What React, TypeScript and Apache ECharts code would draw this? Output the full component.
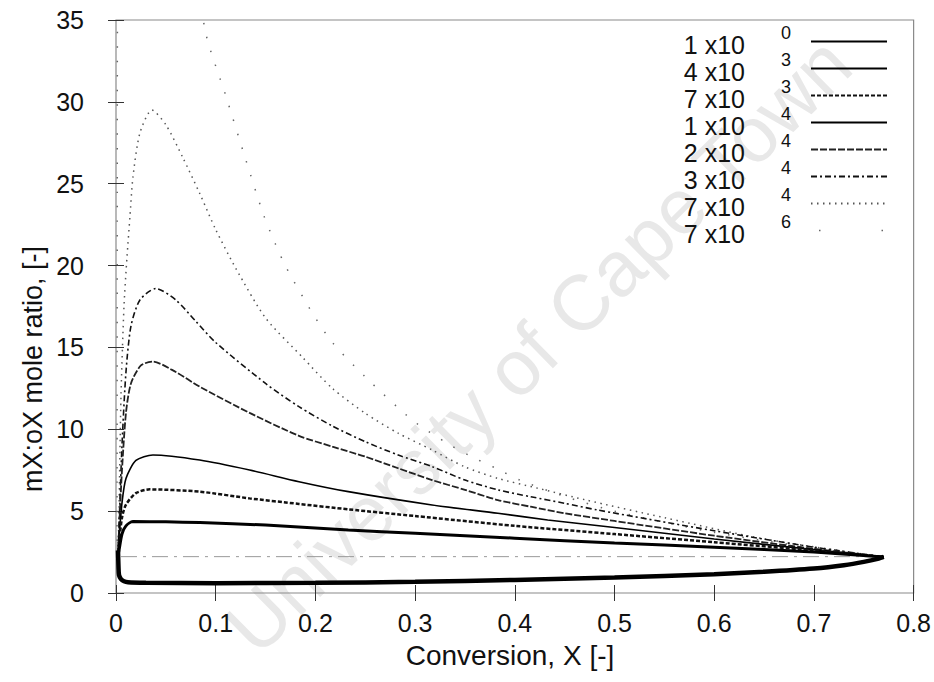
import React, { useEffect, useRef } from "react";
import * as echarts from "echarts";

// ---------- data (X conversion, mX:oX mole ratio) ----------
const xTicks = [0, 0.1, 0.2, 0.3, 0.4, 0.5, 0.6, 0.7, 0.8];
const yTicks = [0, 5, 10, 15, 20, 25, 30, 35];

const legendBases = ["1 x10", "4 x10", "7 x10", "1 x10", "2 x10", "3 x10", "7 x10", "7 x10"];
const legendExps = ["0", "3", "3", "4", "4", "4", "4", "6"];
const seriesNames = ["k1e0", "k4e3", "k7e3", "k1e4", "k2e4", "k3e4", "k7e4", "k7e6"];

const curve1e0: [number, number][] = [
  [0.002, 2.6], [0.0025, 1.6], [0.003, 1.1], [0.005, 0.85], [0.008, 0.72], [0.012, 0.66],
  [0.03, 0.63], [0.1, 0.6], [0.2, 0.62], [0.3, 0.68], [0.4, 0.8], [0.5, 0.95],
  [0.6, 1.15], [0.65, 1.3], [0.7, 1.5], [0.73, 1.7], [0.75, 1.9], [0.765, 2.1], [0.77, 2.2],
];
const curve4e3: [number, number][] = [
  [0.002, 2.3], [0.003, 2.6], [0.006, 3.6], [0.01, 4.1], [0.017, 4.36], [0.05, 4.35],
  [0.084, 4.3], [0.15, 4.15], [0.233, 3.85], [0.3, 3.65], [0.4, 3.35], [0.5, 3.05],
  [0.6, 2.8], [0.7, 2.5], [0.77, 2.2],
];
const curve7e3: [number, number][] = [
  [0.002, 2.3], [0.003, 3.0], [0.006, 4.6], [0.01, 5.4], [0.02, 6.1], [0.034, 6.33],
  [0.084, 6.19], [0.134, 5.78], [0.1835, 5.44], [0.233, 5.11], [0.3, 4.7], [0.4, 4.1],
  [0.5, 3.6], [0.6, 3.1], [0.7, 2.6], [0.77, 2.2],
];
const curve1e4: [number, number][] = [
  [0.002, 2.3], [0.003, 3.3], [0.006, 5.5], [0.01, 7.0], [0.02, 8.1], [0.037, 8.43],
  [0.084, 8.12], [0.134, 7.51], [0.1835, 6.8], [0.233, 6.19], [0.317, 5.38], [0.383, 4.87],
  [0.433, 4.46], [0.5, 4.0], [0.6, 3.3], [0.7, 2.65], [0.77, 2.2],
];
const curve2e4: [number, number][] = [
  [0.002, 2.3], [0.003, 3.8], [0.006, 7.5], [0.01, 11.0], [0.015, 12.8], [0.025, 13.9],
  [0.037, 14.13], [0.06, 13.5], [0.084, 12.6], [0.134, 11.0], [0.1835, 9.6], [0.217, 8.94],
  [0.25, 8.33], [0.283, 7.62], [0.317, 6.9], [0.35, 6.3], [0.383, 5.68], [0.416, 5.27],
  [0.45, 4.87], [0.5, 4.4], [0.6, 3.5], [0.7, 2.7], [0.77, 2.2],
];
const curve3e4: [number, number][] = [
  [0.002, 2.3], [0.003, 4.0], [0.006, 9.0], [0.01, 13.5], [0.015, 16.3], [0.024, 17.9],
  [0.04, 18.6], [0.06, 17.9], [0.08, 16.6], [0.1, 15.3], [0.15, 12.8], [0.1835, 11.38],
  [0.217, 10.2], [0.25, 9.24], [0.283, 8.43], [0.317, 7.72], [0.35, 6.9], [0.383, 6.3],
  [0.416, 5.88], [0.45, 5.48], [0.483, 5.07], [0.6, 3.8], [0.7, 2.8], [0.77, 2.2],
];
const curve7e4: [number, number][] = [
  [0.002, 2.3], [0.003, 5.0], [0.005, 12.0], [0.008, 17.5], [0.011, 20.5], [0.014, 23.0],
  [0.017, 25.4], [0.024, 28.1], [0.036, 29.5], [0.05, 28.6], [0.067, 26.6], [0.084, 24.4],
  [0.1, 22.2], [0.12, 19.85], [0.15, 16.8], [0.187, 14.4], [0.217, 12.5], [0.25, 10.98],
  [0.283, 9.76], [0.317, 8.74], [0.35, 7.7], [0.383, 7.0], [0.423, 6.4], [0.47, 5.7],
  [0.55, 4.6], [0.65, 3.3], [0.77, 2.2],
];
const curve7e6: [number, number][] = [
  [0.001, 2.3], [0.0012, 20.0], [0.0015, 36.0], [0.02, 48.0], [0.045, 50.0], [0.07, 42.0],
  [0.09, 34.2], [0.11, 30.4], [0.13, 26.5], [0.148, 23.1], [0.16, 21.3], [0.171, 19.85],
  [0.197, 17.1], [0.217, 15.3], [0.25, 13.2], [0.297, 10.57], [0.335, 9.04], [0.36, 8.23],
  [0.381, 7.62], [0.405, 6.9], [0.45, 5.9], [0.5, 5.0], [0.6, 3.7], [0.7, 2.75], [0.77, 2.2],
];
const curveEquilibrium: [number, number][] = [
  [0.005, 2.22], [0.77, 2.22],
];

const FONT = "Liberation Sans, Arial, Helvetica, sans-serif";

export default function App() {
  const ref = useRef<HTMLDivElement>(null);

  useEffect(() => {
    if (!ref.current) return;
    const chart = echarts.init(ref.current, undefined, { renderer: "svg" });

    const styles = [
      { width: 4.5, type: "solid", color: "#000" },
      { width: 3, type: "solid", color: "#000" },
      { width: 2.5, type: [4, 2], color: "#111" },
      { width: 1.6, type: "solid", color: "#000" },
      { width: 1.8, type: [7, 2], color: "#222" },
      { width: 1.6, type: [6, 3, 2, 3], color: "#111" },
      { width: 1.5, type: [1.5, 4.5], color: "#555" },
      { width: 1.5, type: [1.5, 13], color: "#666" },
    ];
    const curves = [curve1e0, curve4e3, curve7e3, curve1e4, curve2e4, curve3e4, curve7e4, curve7e6];

    const lineSeries: any[] = curves.map((c, i) => ({
      name: seriesNames[i],
      type: "line",
      data: c,
      symbol: "none",
      smooth: 0.25,
      lineStyle: styles[i],
      itemStyle: { color: styles[i].color },
      clip: true,
      z: 10 - i,
    }));
    lineSeries.push({
      name: "equilibrium",
      type: "line",
      data: curveEquilibrium,
      symbol: "none",
      lineStyle: { width: 1, type: [16, 6, 3, 6], color: "#999" },
      z: 1,
    });

    const legendData = seriesNames.map((n, i) =>
      i === 7
        ? { name: n, lineStyle: { width: 1.5, type: [1.5, 61], dashOffset: -8, color: "#666" } }
        : { name: n }
    );

    const tickStyle = { show: true, inside: true, length: 8, lineStyle: { color: "#333", width: 1 } };

    chart.setOption({
      animation: false,
      backgroundColor: "#fff",
      grid: {
        left: 116, right: 16, top: 20, bottom: 89,
        show: true, borderColor: "#8a8a8a", borderWidth: 1.2, containLabel: false,
      },
      legend: {
        data: legendData,
        orient: "vertical",
        right: 46,
        top: 24,
        padding: 0,
        itemWidth: 76,
        itemHeight: 12,
        itemGap: -6,
        align: "right",
        selectedMode: false,
        itemStyle: { opacity: 0, color: "transparent", borderWidth: 0 },
        formatter: (name: string) => {
          const i = seriesNames.indexOf(name);
          return `{b|${legendBases[i]}}{e|${legendExps[i]}}`;
        },
        textStyle: {
          color: "#111",
          fontFamily: FONT,
          rich: {
            b: { fontSize: 25, fontFamily: FONT, color: "#111", padding: [6, 0, 0, 0] },
            e: { fontSize: 18, fontFamily: FONT, color: "#111", padding: [0, 15, 17, 36] },
          },
        },
      },
      xAxis: [
        {
          type: "value", min: 0, max: 0.8, interval: 0.1, position: "bottom",
          axisLine: { show: false }, splitLine: { show: false },
          axisTick: tickStyle,
          axisLabel: {
            margin: 17, fontSize: 25, color: "#111", fontFamily: FONT,
            formatter: (v: number) => (v === 0 ? "0" : v.toFixed(1)),
          },
        },
        {
          type: "value", min: 0, max: 0.8, interval: 0.1, position: "top",
          axisLine: { show: false }, splitLine: { show: false },
          axisTick: tickStyle, axisLabel: { show: false },
        },
      ],
      yAxis: [
        {
          type: "value", min: 0, max: 35, interval: 5, position: "left",
          axisLine: { show: false }, splitLine: { show: false },
          axisTick: tickStyle,
          axisLabel: { margin: 32, fontSize: 25, color: "#111", fontFamily: FONT },
        },
        {
          type: "value", min: 0, max: 35, interval: 5, position: "right",
          axisLine: { show: false }, splitLine: { show: false },
          axisTick: tickStyle, axisLabel: { show: false },
        },
      ],
      graphic: [
        {
          type: "text", x: 538, y: 345, rotation: (44.5 * Math.PI) / 180, z: -10, silent: true,
          style: {
            text: "University of Cape Town", fontSize: 78, fontFamily: FONT,
            fill: "#e8e8e8", align: "center", verticalAlign: "middle",
          },
        },
        {
          type: "text", x: 510, y: 655,
          style: {
            text: "Conversion, X [-]", fontSize: 28, fontFamily: FONT, fill: "#111",
            align: "center", verticalAlign: "middle",
          },
        },
        {
          type: "text", x: 33, y: 369, rotation: Math.PI / 2,
          style: {
            text: "mX:oX mole ratio, [-]", fontSize: 27, fontFamily: FONT, fill: "#111",
            align: "center", verticalAlign: "middle",
          },
        },
      ],
      series: lineSeries,
    });

    return () => chart.dispose();
  }, []);

  return <div ref={ref} style={{ width: 934, height: 682, position: "absolute", left: 0, top: 0 }} />;
}
